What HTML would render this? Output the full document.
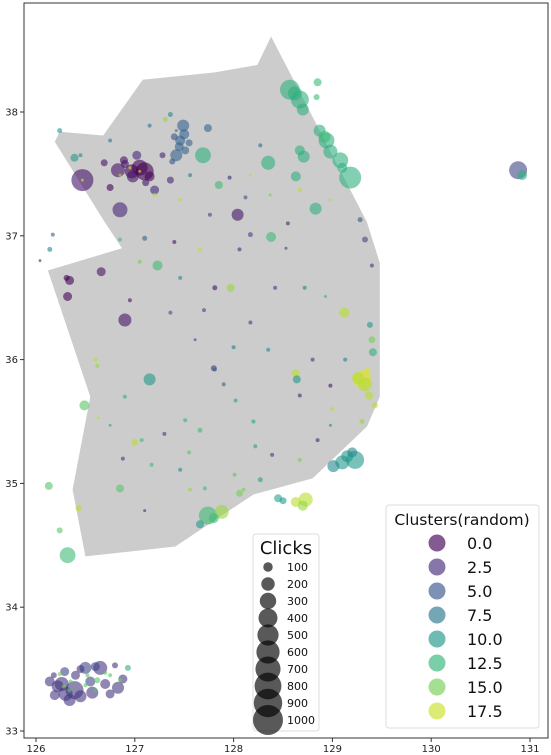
<!DOCTYPE html>
<html><head><meta charset="utf-8">
<style>
html,body{margin:0;padding:0;background:#fff;}
svg{display:block;font-family:"DejaVu Sans","Liberation Sans",sans-serif;}
</style></head>
<body>
<svg id="chart" width="551" height="755" viewBox="0 0 551 755">
  <rect x="0" y="0" width="551" height="755" fill="#fff"/>
  <g id="land"></g>
  <g id="points"></g>
  <rect x="24" y="3" width="524" height="735" fill="none" stroke="#333" stroke-width="1"/>
  <g id="axes"></g>
  <g id="legends"></g>
</svg>
<script>
// ---- data ----
const xTicks = [126,127,128,129,130,131];
const yTicks = [33,34,35,36,37,38];
const landLon = [128.38,129.35,129.48,129.48,129.35,128.80,128.20,127.41,126.50,126.37,126.55,126.12,126.87,126.68,126.19,126.24,126.68,127.08,127.81,128.24];
const landLat = [38.61,37.11,36.78,35.70,35.46,35.04,34.91,34.49,34.41,34.95,35.70,36.72,36.90,37.13,37.76,37.84,37.81,38.26,38.32,38.38];
const ptLon = [126.47,127.10,126.83,126.97,126.85,128.04,127.20,127.02,126.66,126.90,126.34,126.32,126.31,130.88,130.92,127.49,127.46,127.42,127.51,127.74,
128.57,128.67,128.70,128.85,128.84,128.87,128.94,128.98,129.08,129.18,128.67,128.71,128.35,128.63,128.83,127.69,127.85,128.38,
129.23,129.10,129.01,129.30,129.26,129.40,129.41,129.37,129.43,129.38,
127.74,127.88,128.73,128.63,128.45,127.66,128.06,
127.15,126.49,126.32,126.13,126.43,127.23,129.12,127.97,127.00,126.85,128.63,128.64,127.80,
126.89,126.69,126.75,127.28,127.36,127.11,126.95,127.05,126.85,126.47,
126.39,126.26,126.57,126.65,126.50,126.83,126.14,126.75,126.34,126.19,126.29,126.80,126.93,126.62,126.34,126.50,126.24,126.70,126.85,
127.15,127.36,127.56,127.96,128.12,128.27,128.37,128.17,128.53,128.72,128.93,127.46,127.36,127.81,127.05,126.85,127.10,126.95,127.61,128.35,
127.81,127.51,127.66,128.02,128.22,128.39,128.67,128.85,128.98,127.46,127.17,126.88,126.75,126.63,127.07,128.67,128.98,129.13,128.42,128.06,
127.76,126.75,126.45,126.24,126.39,126.14,126.17,126.04,128.17,127.66,127.46,128.67,129.40,129.28,129.33,128.01,128.27,127.56,127.10,127.71,
127.42,127.31,127.20,128.98,128.17,126.24,
126.22,126.30,126.45,126.55,126.40,126.70,126.88,126.60,126.45,126.18,126.35,126.60,126.75,126.28,126.52,
127.05,126.98,127.15,126.90,
127.50,127.45,127.40,127.55,127.38,
128.62,128.92,129.10,
129.15,129.20,129.33,129.35,
127.80,128.70,128.50,
126.60,126.62,127.90,128.20,127.30,128.55,127.70,128.00,126.90,127.40,128.80,129.00,127.55,128.10,129.30];
const ptLat = [37.45,37.52,37.53,37.52,37.21,37.17,37.37,37.65,36.71,36.32,36.64,36.51,36.66,37.53,37.49,37.89,37.77,37.65,37.69,37.87,
38.18,38.10,38.02,38.24,38.12,37.85,37.77,37.68,37.61,37.47,37.69,37.64,37.59,37.48,37.22,37.65,37.41,36.99,
35.19,35.17,35.14,35.84,35.85,36.16,36.06,35.71,35.63,36.28,
34.74,34.77,34.87,34.85,34.88,34.67,34.92,
35.84,35.63,34.42,34.98,34.80,36.76,36.38,36.58,35.33,34.96,35.89,35.84,35.93,
37.61,37.59,37.39,37.65,37.45,37.43,37.55,37.52,37.49,37.45,
33.33,33.38,33.31,33.51,33.51,33.35,33.40,33.30,33.25,33.29,33.48,33.53,33.51,33.41,33.33,33.37,33.46,33.47,33.41,
37.89,37.98,37.49,37.47,37.31,37.73,37.33,37.01,36.90,36.58,36.51,36.66,36.38,36.58,36.79,36.97,36.98,36.48,36.16,36.08,
35.92,35.51,35.43,35.67,35.30,35.23,35.19,35.35,35.47,35.11,35.15,35.20,35.47,35.53,35.35,35.71,35.79,36.00,36.58,36.89,
37.17,37.77,37.65,37.85,37.63,36.89,37.01,36.80,37.49,36.89,37.29,37.37,36.76,37.13,36.97,35.07,35.03,34.95,34.78,34.96,
37.85,37.94,37.33,37.29,36.30,34.62,
33.36,33.30,33.28,33.40,33.45,33.38,33.42,33.52,33.50,33.45,33.40,33.33,33.45,33.36,33.45,
37.55,37.48,37.48,37.58,
37.82,37.72,37.80,37.75,37.60,
38.15,37.80,37.55,
35.22,35.25,35.80,35.90,
34.72,34.82,34.86,
36.00,35.95,35.80,35.50,35.40,37.10,36.40,36.10,35.70,36.95,36.00,35.60,35.25,34.95,35.50];
const ptClicks = [540,360,220,220,250,160,90,90,90,190,90,90,40,360,110,160,110,160,70,70,
440,360,160,70,40,160,280,220,280,540,110,160,220,110,160,280,70,110,
360,220,160,360,160,50,70,70,40,40,
360,220,220,110,70,70,50,
160,110,280,70,40,110,110,70,50,70,70,70,40,
70,55,55,40,55,55,10,10,10,10,
360,220,160,220,160,160,110,90,160,110,90,40,40,40,18,18,18,18,18,
18,28,18,18,18,18,10,28,10,18,10,18,18,28,18,18,28,18,10,18,
18,18,28,18,18,18,18,18,10,18,18,18,10,10,18,18,18,18,18,18,
18,18,18,28,70,28,18,10,10,18,18,18,18,28,40,18,28,18,10,18,
10,28,18,10,18,40,
160,220,160,110,90,110,90,90,70,40,18,18,18,18,18,
280,160,110,70,
110,90,55,55,40,
220,160,110,
160,110,220,70,
110,110,55,
18,18,18,18,18,18,18,18,18,18,18,18,18,18,28];
const ptCluster = [1,0,1,0,2,1,2,2,1,1,0,0,0,4,12,6,6,6,6,6,
12,12,12,13,13,12,12,12,12,12,12,12,12,12,12,12,13,13,
10,10,9,18,17,15,12,17,17,10,
13,16,17,17,11,10,15,
10,14,13,14,17,13,17,16,17,14,17,10,3,
1,1,0,2,2,1,18,18,17,18,
3,3,3,3,4,3,3,3,3,3,4,3,12,14,14,14,15,14,15,
7,9,8,2,5,6,15,4,3,8,12,9,5,1,15,13,6,1,4,9,
6,12,13,11,11,3,15,2,8,9,13,3,11,17,13,2,1,8,3,2,
4,8,9,10,10,9,6,2,17,17,17,17,3,5,4,14,11,16,2,13,
6,16,17,17,3,14,
3,3,3,4,3,3,3,4,3,3,14,14,14,15,14,
0,1,0,1,
6,6,5,6,5,
12,13,12,
10,9,17,18,
13,16,10,
17,16,6,11,3,2,4,8,12,1,3,17,14,15,16];
const legendClicks = [100,200,300,400,500,600,700,800,900,1000];
const legendClusters = [0.0,2.5,5.0,7.5,10.0,12.5,15.0,17.5];

// ---- scales ----
const X = lon => 36 + (lon - 126) * 98.8;
const Y = lat => 112 + (38 - lat) * 123.8;
const D = c => 30 * Math.sqrt(c / 1000);
const NS = 'http://www.w3.org/2000/svg';
const vir = [[68,1,84],[72,40,120],[62,73,137],[49,104,142],[38,130,142],[31,158,137],[53,183,121],[109,205,89],[180,222,44],[253,231,37]];
function viridis(t){t=Math.max(0,Math.min(1,t));const p=t*(vir.length-1);const i=Math.min(vir.length-2,Math.floor(p));const f=p-i;
 const c=vir[i].map((v,k)=>Math.round(v+(vir[i+1][k]-v)*f));return `rgb(${c[0]},${c[1]},${c[2]})`;}
const clColor = c => viridis(c/19);
function mk(tag, attrs, parent){const e=document.createElementNS(NS,tag);for(const k in attrs)e.setAttribute(k,attrs[k]);parent.appendChild(e);return e;}

// land
const land = document.getElementById('land');
const poly = mk('polygon',{points:landLon.map((l,i)=>X(l).toFixed(1)+','+Y(landLat[i]).toFixed(1)).join(' '),fill:'#cccccc'},land);



// points
const pts = document.getElementById('points');
const order = ptLon.map((_,i)=>i).sort((a,b)=>ptClicks[b]-ptClicks[a]);
order.forEach(i=>{
  const c = mk('circle',{cx:X(ptLon[i]).toFixed(1),cy:Y(ptLat[i]).toFixed(1),r:(D(ptClicks[i])/2).toFixed(1),fill:clColor(ptCluster[i]),'fill-opacity':0.6},pts);
  
  
});

// axes
const ax = document.getElementById('axes');
xTicks.forEach(t=>{
  const l = mk('line',{x1:X(t),x2:X(t),y1:738,y2:742,stroke:'#333'},ax);
  
  
  const tx = mk('text',{x:X(t),y:752,'font-size':10,'text-anchor':'middle',fill:'#222'},ax);
  tx.textContent = t;
  
  
});
yTicks.forEach(t=>{
  const l = mk('line',{x1:20,x2:24,y1:Y(t),y2:Y(t),stroke:'#333'},ax);
  
  
  const tx = mk('text',{x:18,y:Y(t)+3.5,'font-size':10,'text-anchor':'end',fill:'#222'},ax);
  tx.textContent = t;
  
  
});

// legends
const lg = document.getElementById('legends');
const g1 = mk('g',{},lg);


mk('rect',{x:253,y:534,width:66,height:197,rx:3,fill:'#fff','fill-opacity':0.85,stroke:'#ddd'},g1);
const t1 = mk('text',{x:286,y:554,'font-size':18,'text-anchor':'middle',fill:'#111'},g1);
t1.textContent='Clicks';


legendClicks.forEach((c,i)=>{
  const y = 567 + i*17;
  const m = mk('circle',{cx:268,cy:y,r:D(c)/2,fill:'#000','fill-opacity':0.65},g1);
  
  
  const tx = mk('text',{x:287,y:y+4,'font-size':11,fill:'#111'},g1);
  tx.textContent = c;
  
  
});
const g2 = mk('g',{},lg);


mk('rect',{x:386,y:505,width:153,height:223,rx:3,fill:'#fff','fill-opacity':0.85,stroke:'#ddd'},g2);
const t2 = mk('text',{x:462,y:525,'font-size':15.5,'text-anchor':'middle',fill:'#111'},g2);
t2.textContent='Clusters(random)';


legendClusters.forEach((v,i)=>{
  const y = 543 + i*24;
  const m = mk('circle',{cx:437,cy:y,r:8.5,fill:clColor(v),'fill-opacity':0.65},g2);
  
  
  const tx = mk('text',{x:467,y:y+6,'font-size':16,fill:'#111'},g2);
  tx.textContent = v.toFixed(1);
  
  
});
</script>
</body></html>
